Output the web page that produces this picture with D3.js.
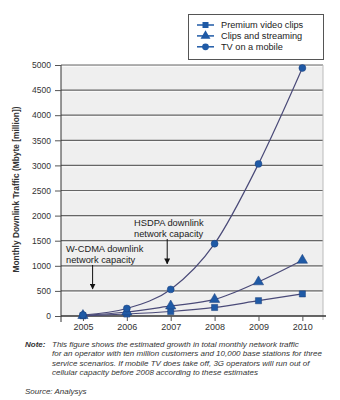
<!DOCTYPE html>
<html>
<head>
<meta charset="utf-8">
<script src="https://cdn.jsdelivr.net/npm/d3@7"></script>
<style>
  html, body { margin: 0; padding: 0; background: #fff; }
  svg { display: block; font-family: "Liberation Sans", Arial, sans-serif; }
</style>
</head>
<body>
<svg id="chart" width="340" height="400"></svg>
<script>
// Years on the x axis
const years = [2005, 2006, 2007, 2008, 2009, 2010];
// Monthly downlink traffic, Mbyte (million), per scenario
const premiumVideo = [5, 40, 90, 170, 305, 440];
const clipsStreaming = [10, 80, 200, 330, 680, 1110];
const tvMobile = [20, 150, 530, 1440, 3030, 4940];
const seriesNames = ["Premium video clips", "Clips and streaming", "TV on a mobile"];
const seriesSymbols = ["square", "triangle", "circle"];
const yTicks = [0, 500, 1000, 1500, 2000, 2500, 3000, 3500, 4000, 4500, 5000];
const noteLines = [
  "This figure shows the estimated growth in total monthly network traffic",
  "for an operator with ten million customers and 10,000 base stations for three",
  "service scenarios. If mobile TV does take off, 3G operators will run out of",
  "cellular capacity before 2008 according to these estimates"
];

const svg = d3.select("#chart");
const plotL = 61, plotR = 323, plotT = 65, plotB = 316;

const x = d3.scaleLinear().domain([2004.5, 2010.47]).range([plotL, plotR]);
const y = d3.scaleLinear().domain([0, 5000]).range([plotB, plotT]);

const lineColor = "#4a4a78";
const markColor = "#1f5aa6";

// plot background
svg.append("rect").attr("x", plotL).attr("y", plotT)
  .attr("width", plotR - plotL).attr("height", plotB - plotT)
  .attr("fill", "#efefef");

// horizontal gridlines with a light highlight beneath
svg.append("g").selectAll("line").data(yTicks.slice(1)).join("line")
  .attr("x1", plotL).attr("x2", plotR)
  .attr("y1", d => y(d) + 1.5).attr("y2", d => y(d) + 1.5)
  .attr("stroke", "#fafafa").attr("stroke-width", 1);
svg.append("g").selectAll("line").data(yTicks.slice(1)).join("line")
  .attr("x1", plotL).attr("x2", plotR)
  .attr("y1", d => y(d)).attr("y2", d => y(d))
  .attr("stroke", "#666").attr("stroke-width", 1.2);

// right frame edge
svg.append("line").attr("x1", plotR).attr("x2", plotR).attr("y1", plotT).attr("y2", plotB + 4)
  .attr("stroke", "#bbb").attr("stroke-width", 1);

// y axis
const yAxis = d3.axisLeft(y).tickValues(yTicks).tickSize(6).tickPadding(4).tickFormat(d3.format("d"));
const gy = svg.append("g").attr("transform", `translate(${plotL},0)`).call(yAxis);
gy.select(".domain").attr("d", `M0,${plotT}V${plotB + 6}`).attr("stroke", "#333");
gy.selectAll(".tick line").attr("stroke", "#555");
gy.selectAll(".tick text").attr("font-size", 8.5).attr("fill", "#333");

// x axis
const xAxis = d3.axisBottom(x).tickValues(years).tickSize(5).tickPadding(3).tickFormat(d3.format("d"));
const gx = svg.append("g").attr("transform", `translate(0,${plotB})`).call(xAxis);
gx.select(".domain").attr("d", `M${plotL},0H${plotR + 3}`).attr("stroke", "#333").attr("stroke-width", 1.3);
gx.selectAll(".tick line").attr("stroke", "#555");
gx.selectAll(".tick text").attr("font-size", 9).attr("fill", "#333");

// y axis title
svg.append("text")
  .attr("transform", `translate(19,${(plotT + plotB) / 2 - 1}) rotate(-90)`)
  .attr("text-anchor", "middle").attr("font-size", 8.4).attr("font-weight", "bold").attr("fill", "#333")
  .text("Monthly Downlink Traffic (Mbyte [million])");

// annotations with arrows
svg.append("defs").append("marker")
  .attr("id", "arrow").attr("viewBox", "0 0 10 10").attr("refX", 9).attr("refY", 5)
  .attr("markerWidth", 6).attr("markerHeight", 6).attr("orient", "auto")
  .append("path").attr("d", "M0,0L10,5L0,10z").attr("fill", "#111");

const notes = [
  { lines: ["W-CDMA downlink", "network capacity"], tx: 66, ty: 252, ax: x(2005.22), ay1: 265, level: 500 },
  { lines: ["HSDPA downlink", "network capacity"], tx: 134, ty: 226, ax: x(2006.92), ay1: 239, level: 1000 }
];
notes.forEach(n => {
  const t = svg.append("text").attr("x", n.tx).attr("y", n.ty).attr("font-size", 9.3).attr("fill", "#222");
  n.lines.forEach((l, i) => t.append("tspan").attr("x", n.tx).attr("dy", i ? 11 : 0).text(l));
  svg.append("line").attr("x1", n.ax).attr("x2", n.ax).attr("y1", n.ay1).attr("y2", y(n.level) - 2)
    .attr("stroke", "#111").attr("stroke-width", 1).attr("marker-end", "url(#arrow)");
});

// series lines and markers
const allSeries = [premiumVideo, clipsStreaming, tvMobile];
const lineGen = d3.line().x((d, i) => x(years[i])).y(d => y(d)).curve(d3.curveMonotoneX);
const symbolMap = { square: d3.symbolSquare, triangle: d3.symbolTriangle, circle: d3.symbolCircle };

allSeries.forEach(vals => {
  svg.append("path").datum(vals).attr("d", lineGen)
    .attr("fill", "none").attr("stroke", lineColor).attr("stroke-width", 1.2);
});
allSeries.forEach((vals, si) => {
  const sym = d3.symbol().type(symbolMap[seriesSymbols[si]]).size(si === 1 ? 46 : 38);
  svg.append("g").selectAll("path").data(vals).join("path")
    .attr("transform", (d, i) => `translate(${x(years[i])},${y(d)})`)
    .attr("d", sym).attr("fill", markColor).attr("stroke", "#1a3f7a").attr("stroke-width", 0.5);
});

// legend
const lg = svg.append("g");
lg.append("rect").attr("x", 188.5).attr("y", 14.5).attr("width", 135).attr("height", 45)
  .attr("fill", "#fff").attr("stroke", "#555").attr("stroke-width", 1);
seriesNames.forEach((name, i) => {
  const cy = 25 + i * 10.9;
  lg.append("line").attr("x1", 197).attr("x2", 214).attr("y1", cy).attr("y2", cy)
    .attr("stroke", markColor).attr("stroke-width", 1.5);
  lg.append("path").attr("transform", `translate(205.5,${cy})`)
    .attr("d", d3.symbol().type(symbolMap[seriesSymbols[i]]).size(i === 1 ? 42 : 36))
    .attr("fill", markColor);
  lg.append("text").attr("x", 221).attr("y", cy + 3.3).attr("font-size", 9.2).attr("fill", "#222").text(name);
});

// note and source
svg.append("text").attr("x", 25).attr("y", 347).attr("font-size", 8).attr("font-style", "italic")
  .attr("font-weight", "bold").attr("fill", "#333").text("Note:");
const nt = svg.append("text").attr("x", 52).attr("y", 347).attr("font-size", 8)
  .attr("font-style", "italic").attr("fill", "#333");
noteLines.forEach((l, i) => nt.append("tspan").attr("x", 52).attr("dy", i ? 9.4 : 0).text(l));
svg.append("text").attr("x", 25).attr("y", 394).attr("font-size", 8).attr("font-style", "italic")
  .attr("fill", "#333").text("Source: Analysys");
</script>
</body>
</html>
